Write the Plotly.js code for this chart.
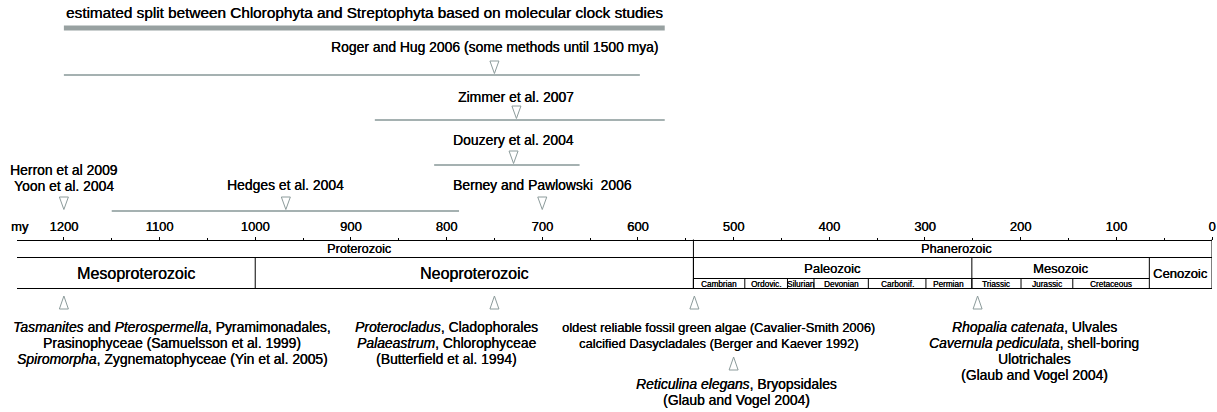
<!DOCTYPE html>
<html><head><meta charset="utf-8">
<script src="https://cdn.plot.ly/plotly-3.0.1.min.js"></script>
<style>html,body{margin:0;padding:0;background:#fff;} #chart{width:1217px;height:412px;}</style>
</head><body><div id="chart"></div>
<script>
// ---------- data (million years ago) ----------
const estimateLabels = [
  "estimated split between Chlorophyta and Streptophyta based on molecular clock studies",
  "Roger and Hug 2006 (some methods until 1500 mya)",
  "Zimmer et al. 2007",
  "Douzery et al. 2004",
  "Hedges et al. 2004"
];
const estimateStart = [1200, 1200, 875, 813, 1150];
const estimateEnd   = [572, 598, 572, 661, 787];
const estimatePoint = [null, 750, 727, 730, 968];

const singleLabels = ["Herron et al 2009<br>Yoon et al. 2004", "Berney and Pawlowski  2006"];
const singlePoint  = [1200, 700];

const fossilAge = [1200, 750, 541, 500, 245];
const fossilText = [
  "<i>Tasmanites</i> and <i>Pterospermella</i>, Pyramimonadales,<br>Prasinophyceae (Samuelsson et al. 1999)<br><i>Spiromorpha</i>, Zygnematophyceae (Yin et al. 2005)",
  "<i>Proterocladus</i>, Cladophorales<br><i>Palaeastrum</i>, Chlorophyceae<br>(Butterfield et al. 1994)",
  "oldest reliable fossil green algae (Cavalier-Smith 2006)<br>calcified Dasycladales (Berger and Kaever 1992)",
  "<i>Reticulina elegans</i>, Bryopsidales<br>(Glaub and Vogel 2004)",
  "<i>Rhopalia catenata</i>, Ulvales<br><i>Cavernula pediculata</i>, shell-boring<br>Ulotrichales<br>(Glaub and Vogel 2004)"
];

const tickValues = [1200, 1100, 1000, 900, 800, 700, 600, 500, 400, 300, 200, 100, 0];
const minorTickValues = [1150, 1050, 950, 850, 750, 650, 550, 450, 350, 250, 150, 50];

const eonNames = ["Proterozoic", "Phanerozoic"];
const eonStart = [2500, 542];
const eonEnd   = [542, 0];
const eraNames = ["Mesoproterozoic", "Neoproterozoic", "Paleozoic", "Mesozoic", "Cenozoic"];
const eraStart = [1600, 1000, 542, 251, 65.5];
const eraEnd   = [1000, 542, 251, 65.5, 0];
const periodNames = ["Cambrian", "Ordovic.", "Silurian", "Devonian", "Carbonif.", "Permian", "Triassic", "Jurassic", "Cretaceous"];
const periodStart = [542, 488.3, 443.7, 416, 359.2, 299, 251, 199.6, 145.5];
const periodEnd   = [488.3, 443.7, 416, 359.2, 299, 251, 199.6, 145.5, 65.5];

// ---------- layout constants ----------
const W = 1217, H = 412;
const XMAX = 1249, XMIN = 0;
const FONT = "Liberation Sans, Arial, Helvetica, sans-serif";
const SHADOW = "0.3px 0 0 #000";
const TXT = 13.9;
const LINE_H = 16;
const ROW = {axis: 239.5, eonBottom: 257.5, eraSplit: 278.5, bottom: 288.5};
const estRows = [
  {text: 12, line: 28, size: 15.3},
  {text: 47, line: 75, size: TXT},
  {text: 97, line: 120, size: TXT},
  {text: 140, line: 165, size: TXT},
  {text: 185, line: 211, size: TXT}
];
const singleRows = [{text: 170, line: 211}, {text: 185, line: 211}];
// label block placement (x in my, y = first line centre in px) for fossils
const fossilLabelPos = [
  {x: 1087, tri: 296, text: 327, size: TXT},
  {x: 800,  tri: 296, text: 327, size: TXT},
  {x: 516,  tri: 296, text: 327, size: 12.9},
  {x: 497,  tri: 357, text: 384, size: TXT},
  {x: 186,  tri: 296, text: 327, size: TXT}
];
const BAR_COL = "#98a1a1", LINE_COL = "#a5b1b1", TRI_COL = "#8c9b9b";

const traces = [];
const shapes = [];
const annotations = [];

function clip(v) { return Math.min(v, XMAX); }
function fnt(size) { return {family: FONT, size: size, color: "#000", shadow: SHADOW}; }

function downTri(x, lineY) {
  shapes.push({type: "path", xref: "x", yref: "y", xsizemode: "pixel", xanchor: x,
    path: `M-4.5,${lineY - 14} L4.5,${lineY - 14} L0,${lineY - 1.5} Z`,
    fillcolor: "#ffffff", line: {color: TRI_COL, width: 1}, layer: "above"});
}
function upTri(x, topY) {
  shapes.push({type: "path", xref: "x", yref: "y", xsizemode: "pixel", xanchor: x,
    path: `M-4.5,${topY + 13} L4.5,${topY + 13} L0,${topY} Z`,
    fillcolor: "#ffffff", line: {color: TRI_COL, width: 1}, layer: "above"});
}
function textLines(x, yFirst, txt, size) {
  txt.split("<br>").forEach((ln, k) => {
    annotations.push({x: x, y: yFirst + k * LINE_H, xref: "x", yref: "y", text: ln, showarrow: false,
      xanchor: "center", yanchor: "middle", font: fnt(size)});
  });
}

// molecular clock ranges
estimateLabels.forEach((lab, i) => {
  traces.push({type: "scatter", mode: "lines", x: [estimateStart[i], estimateEnd[i]],
    y: [estRows[i].line, estRows[i].line], cliponaxis: false, hoverinfo: "skip",
    line: {color: i === 0 ? BAR_COL : LINE_COL, width: i === 0 ? 5 : 2}});
  const cx = estimatePoint[i] !== null ? estimatePoint[i] : (estimateStart[i] + estimateEnd[i]) / 2;
  textLines(cx, estRows[i].text, lab, estRows[i].size);
  if (estimatePoint[i] !== null) downTri(estimatePoint[i], estRows[i].line);
});

singleLabels.forEach((lab, i) => {
  downTri(singlePoint[i], singleRows[i].line);
  textLines(singlePoint[i], singleRows[i].text, lab, TXT);
});

// fossils
fossilAge.forEach((a, i) => {
  upTri(a, fossilLabelPos[i].tri);
  textLines(fossilLabelPos[i].x, fossilLabelPos[i].text, fossilText[i], fossilLabelPos[i].size);
});

// time-scale boxes
const LC = {color: "#000", width: 1};
function hline(x0, x1, y) { shapes.push({type: "line", xref: "x", yref: "y", x0: clip(x0), x1: x1, y0: y, y1: y, line: LC}); }
function vline(x, y0, y1) { shapes.push({type: "line", xref: "x", yref: "y", x0: x, x1: x, y0: y0, y1: y1, line: LC}); }

hline(XMAX, 0, ROW.eonBottom);
hline(XMAX, 0, ROW.bottom);
vline(0, ROW.axis, ROW.bottom);
eonNames.forEach((n, i) => {
  if (eonStart[i] < XMAX) vline(eonStart[i], ROW.axis, ROW.bottom);
  annotations.push({x: (clip(eonStart[i]) + eonEnd[i]) / 2 - 4, y: (ROW.axis + ROW.eonBottom) / 2, xref: "x", yref: "y",
    text: n, showarrow: false, font: fnt(12.7)});
});
eraNames.forEach((n, i) => {
  if (eraStart[i] < XMAX) vline(eraStart[i], ROW.eonBottom, ROW.bottom);
  const inPhan = eraStart[i] <= 542;
  const isCeno = n === "Cenozoic";
  const yy = (inPhan && !isCeno) ? (ROW.eonBottom + ROW.eraSplit) / 2 : (ROW.eonBottom + ROW.bottom) / 2;
  annotations.push({x: (clip(eraStart[i]) + eraEnd[i]) / 2, y: yy, xref: "x", yref: "y",
    text: n, showarrow: false, font: fnt(inPhan ? 13 : 16)});
});
hline(542, 65.5, ROW.eraSplit);
periodNames.forEach((n, i) => {
  vline(periodStart[i], ROW.eraSplit, ROW.bottom);
  annotations.push({x: (periodStart[i] + periodEnd[i]) / 2, y: (ROW.eraSplit + ROW.bottom) / 2 + 0.5, xref: "x", yref: "y",
    text: n, showarrow: false, font: {family: FONT, size: 8.2, color: "#000", shadow: "0.2px 0 0 #000"}});
});

// "my" axis unit label
annotations.push({x: 9 / W, y: 226, xref: "paper", yref: "y", text: "my", showarrow: false, xanchor: "left",
  font: fnt(13)});

const layout = {
  width: W, height: H,
  margin: {l: 0, r: 0, t: 0, b: 0},
  paper_bgcolor: "#fff", plot_bgcolor: "#fff",
  showlegend: false,
  xaxis: {
    domain: [17 / W, 1212 / W], range: [XMAX, XMIN],
    anchor: "free", position: 1 - ROW.axis / H, side: "top",
    showline: true, linecolor: "#000", linewidth: 1,
    ticks: "outside", ticklen: 3, tickcolor: "#000", tickwidth: 1,
    tickvals: tickValues, ticktext: tickValues.map(String),
    minor: {tickvals: minorTickValues, ticks: "outside", ticklen: 1.5, tickcolor: "#000"},
    showgrid: false, zeroline: false, fixedrange: true,
    tickfont: fnt(13)
  },
  yaxis: {range: [H, 0], domain: [0, 1], visible: false, fixedrange: true},
  shapes: shapes,
  annotations: annotations
};

Plotly.newPlot("chart", traces, layout, {displayModeBar: false, staticPlot: true});
</script></body></html>
